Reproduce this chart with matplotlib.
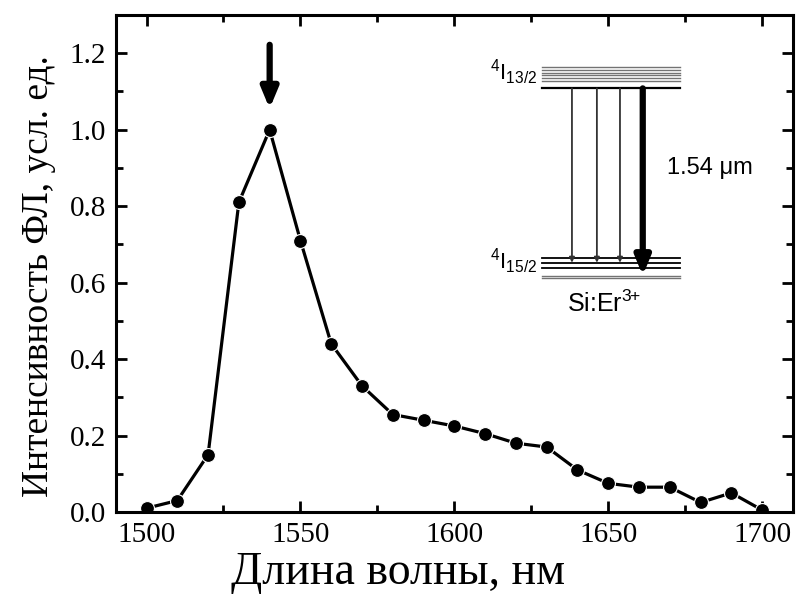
import numpy as np
import matplotlib.pyplot as plt
from matplotlib.ticker import MultipleLocator

# PL spectrum of Si:Er
wavelength = [1500, 1510, 1520, 1530, 1540, 1550, 1560, 1570, 1580, 1590, 1600,
              1610, 1620, 1630, 1640, 1650, 1660, 1670, 1680, 1690, 1700]
intensity = [0.01, 0.03, 0.15, 0.81, 1.00, 0.71, 0.44, 0.33, 0.255, 0.24, 0.225,
             0.205, 0.18, 0.17, 0.11, 0.075, 0.065, 0.065, 0.025, 0.05, 0.005]

# energy level scheme (inset), in data units
upper_levels = [1.163, 1.156, 1.149, 1.142, 1.135, 1.128]
upper_main = 1.108
lower_levels = [0.664, 0.651, 0.638]
lower_extra = [0.616, 0.612]
level_x = [1628.4, 1673.2]
thin_x = [1638.2, 1646.3, 1653.8]
thick_x = 1661.2

plt.rcParams['font.family'] = ['Liberation Serif', 'DejaVu Serif']
plt.rcParams['mathtext.fontset'] = 'custom'
plt.rcParams['mathtext.rm'] = 'Liberation Sans'
plt.rcParams['mathtext.it'] = 'Liberation Sans'

fig = plt.figure(figsize=(7.96, 5.99), dpi=100)
ax = fig.add_axes([0.1454, 0.1452, 0.8508, 0.8298])

ax.plot(wavelength, intensity, color='black', lw=2.3, marker='o', ms=10,
        mfc='black', mec='white', mew=0.8)

ax.set_xlim(1490, 1710)
ax.set_ylim(0, 1.3)
ax.xaxis.set_major_locator(MultipleLocator(50))
ax.xaxis.set_minor_locator(MultipleLocator(25))
ax.yaxis.set_major_locator(MultipleLocator(0.2))
ax.yaxis.set_minor_locator(MultipleLocator(0.1))
ax.yaxis.set_major_formatter(plt.FormatStrFormatter('%.1f'))
ax.set_yticks([0, 0.2, 0.4, 0.6, 0.8, 1.0, 1.2])

for s in ax.spines.values():
    s.set_linewidth(2.2)
ax.tick_params(which='both', direction='in', top=True, right=True, labelsize=21, width=2)
ax.tick_params(which='major', length=8, pad=7)
ax.tick_params(which='minor', length=5)

ax.set_xlabel('Длина волны, нм', fontsize=33)
ax.set_ylabel('Интенсивность ФЛ, усл. ед.', fontsize=27)
ax.xaxis.set_label_coords(0.417, -0.08)
ax.yaxis.set_label_coords(-0.088, 0.475)

# arrow marking the peak
ax.annotate('', xy=(1540, 1.055), xytext=(1540, 1.222),
            arrowprops=dict(arrowstyle='-|>,head_width=0.5,head_length=1.2',
                            color='black', lw=4.5, shrinkA=0, shrinkB=0))

# inset: Er3+ levels
for y in upper_levels:
    ax.plot(level_x, [y, y], color='0.45', lw=1.0)
ax.plot(level_x, [upper_main, upper_main], color='black', lw=1.6)
for y in lower_levels:
    ax.plot(level_x, [y, y], color='black', lw=1.3)
for y in lower_extra:
    ax.plot(level_x, [y, y], color='0.45', lw=1.0)

for x in thin_x:
    ax.annotate('', xy=(x, 0.652), xytext=(x, upper_main),
                arrowprops=dict(arrowstyle='-|>,head_width=0.15,head_length=0.3',
                                color='0.2', lw=1.3, shrinkA=0, shrinkB=0))
ax.annotate('', xy=(thick_x, 0.618), xytext=(thick_x, upper_main),
            arrowprops=dict(arrowstyle='-|>,head_width=0.45,head_length=1.1',
                            color='black', lw=4.5, shrinkA=0, shrinkB=0))

sans = ['Liberation Sans', 'DejaVu Sans']
ax.text(1669, 0.90, '1.54 μm', family=sans, fontsize=17, va='center', ha='left')
ax.text(1627, 1.15, r'$^{4}$I$_{13/2}$', family=sans, fontsize=16, va='center', ha='right')
ax.text(1627, 0.655, r'$^{4}$I$_{15/2}$', family=sans, fontsize=16, va='center', ha='right')
ax.text(1636.5, 0.545, r'Si:Er$^{3\!\!+}$', family=sans, fontsize=18, va='center', ha='left')

fig.savefig('out.png', dpi=100)
